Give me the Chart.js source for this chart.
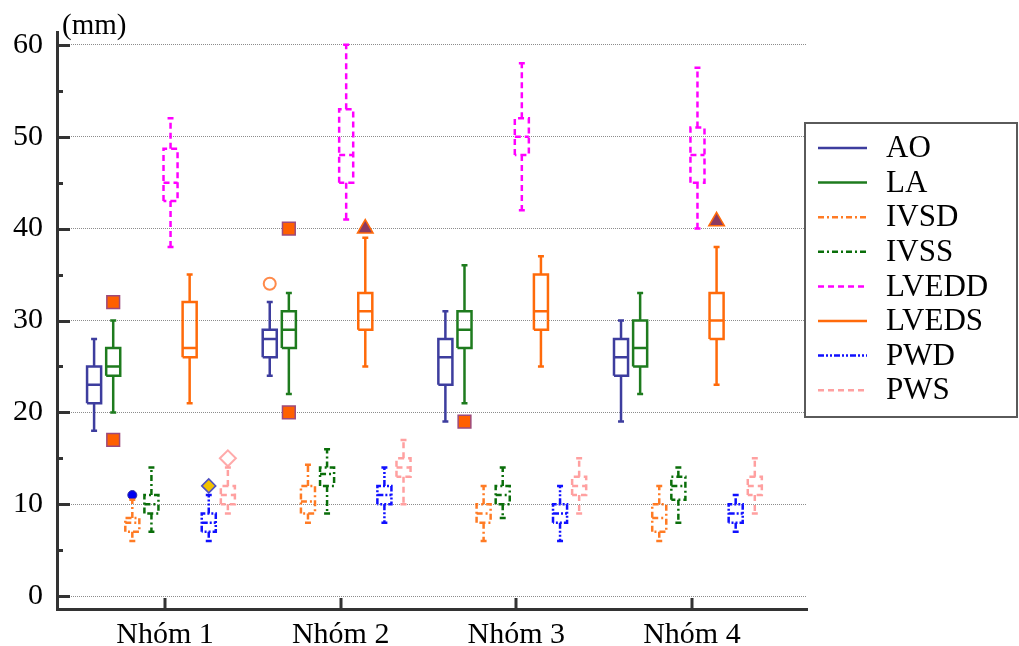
<!DOCTYPE html>
<html>
<head>
<meta charset="utf-8">
<title>Kích thước tim theo nhóm</title>
<script src="https://cdn.jsdelivr.net/npm/chart.js@4.4.1/dist/chart.umd.min.js"></script>
<style>
  html, body { margin: 0; padding: 0; background: #fff; }
  #khung { width: 1019px; height: 646px; }
</style>
</head>
<body>
<div id="khung"><canvas id="bieudo"></canvas></div>
<script>
const nhom = ['Nhóm 1', 'Nhóm 2', 'Nhóm 3', 'Nhóm 4'];
const chiSo = ['AO', 'LA', 'IVSD', 'IVSS', 'LVEDD', 'LVEDS', 'PWD', 'PWS'];
const yTicks = [0, 10, 20, 30, 40, 50, 60];

// moi nhom: [min, Q1, trung vi, Q3, max]
const ao    = [[18, 21, 23, 25, 28], [24, 26, 28, 29, 32], [19, 23, 26, 28, 31], [19, 24, 26, 28, 30]];
const la    = [[20, 24, 25, 27, 30], [22, 27, 29, 31, 33], [21, 27, 29, 31, 36], [22, 25, 27, 30, 33]];
const ivsd  = [[6, 7, 8, 8.5, 10.5], [8, 9, 10.3, 12, 14.3], [6, 8, 9, 10, 12], [6, 7, 8.5, 10, 12]];
const ivss  = [[7, 9, 10, 11, 14], [9, 12, 13.3, 14, 16], [8.5, 10, 11, 12, 14], [8, 10.5, 12, 13, 14]];
const lvedd = [[38, 43, 45, 48.7, 52], [41, 45, 48, 53, 60], [42, 48, 50, 52, 58], [40, 45, 48, 51, 57.5]];
const lveds = [[21, 26, 27, 32, 35], [25, 29, 31, 33, 39], [25, 29, 31, 35, 37], [23, 28, 30, 33, 38]];
const pwd   = [[6, 7, 8, 9, 11], [8, 10, 11, 12, 14], [6, 8, 9, 10, 12], [7, 8, 9, 10, 11]];
const pws   = [[9, 10, 11, 12, 14], [10, 13, 14, 15, 17], [9, 11, 12, 13, 15], [9, 11, 12, 13, 15]];
const thongKe = [ao, la, ivsd, ivss, lvedd, lveds, pwd, pws];

// diem ngoai lai: [nhom, chi so, gia tri, kieu]
const ngoaiLai = [
    [0, 1, 32, 'vuong'], [0, 1, 17, 'vuong'],
    [0, 2, 11, 'tronXanh'], [0, 6, 12, 'thoiVang'], [0, 7, 15, 'thoiHong'],
    [1, 0, 34, 'tronRong'], [1, 1, 40, 'vuong'], [1, 1, 20, 'vuong'],
    [1, 5, 40, 'tamGiac'],
    [2, 1, 19, 'vuong'],
    [3, 5, 40.8, 'tamGiac']
];

const mau = ['#3d3d9e', '#1e7b1e', '#ff7b24', '#0a6e0a', '#ff00ff', '#ff6a0a', '#1010ff', '#ffa0a0'];
const net = [[], [], [6, 3, 2, 3], [6, 3, 2, 3], [6, 4], [], [6, 2, 2, 2, 2, 2], [6, 4]];

const kieuDiem = {
    vuong:    { pointStyle: 'rect', radius: 9, bg: '#ff6000', bd: '#9c4a7c', bw: 1.5 },
    tronXanh: { pointStyle: 'circle', radius: 4.5, bg: '#0000f0', bd: '#2a2aa0', bw: 1 },
    thoiVang: { pointStyle: 'rectRot', radius: 7, bg: '#f2c200', bd: '#5050c0', bw: 1.5 },
    thoiHong: { pointStyle: 'rectRot', radius: 8, bg: 'rgba(255,255,255,0)', bd: '#ffaaaa', bw: 2 },
    tronRong: { pointStyle: 'circle', radius: 6, bg: 'rgba(255,255,255,0)', bd: '#ff8a4a', bw: 2 },
    tamGiac:  { pointStyle: 'triangle', radius: 9, bg: '#8b3a62', bd: '#ff6a0a', bw: 1.5 }
};

const nuaHop = 0.04;   // nua be rong hop
const nuaMu = 0.017;   // nua be rong vach dau rau
const buoc = 0.1088;   // khoang cach giua cac hop trong mot nhom
const lech = -0.023;

function viTri(g, s) {
    return g + 1 + (s - 3.5) * buoc + lech;
}

// ve hop + rau bang cac doan thang, ngat nhau bang null
function duongHop(bang, s) {
    const pts = [];
    const ngat = x => pts.push({ x: x, y: null });
    bang.forEach((t, g) => {
        const [mn, q1, md, q3, mx] = t;
        const x = viTri(g, s);
        pts.push({ x: x - nuaHop, y: q1 }, { x: x - nuaHop, y: q3 }, { x: x + nuaHop, y: q3 },
                 { x: x + nuaHop, y: q1 }, { x: x - nuaHop, y: q1 });
        ngat(x);
        pts.push({ x: x - nuaHop, y: md }, { x: x + nuaHop, y: md });
        ngat(x);
        pts.push({ x: x, y: q3 }, { x: x, y: mx });
        ngat(x);
        pts.push({ x: x - nuaMu, y: mx }, { x: x + nuaMu, y: mx });
        ngat(x);
        pts.push({ x: x, y: q1 }, { x: x, y: mn });
        ngat(x);
        pts.push({ x: x - nuaMu, y: mn }, { x: x + nuaMu, y: mn });
        ngat(x);
    });
    return pts;
}

const tapDuLieu = chiSo.map((ten, s) => ({
    label: ten,
    data: duongHop(thongKe[s], s),
    borderColor: mau[s],
    borderWidth: 2.5,
    borderDash: net[s],
    borderJoinStyle: 'miter',
    pointRadius: 0,
    fill: false,
    spanGaps: false,
    tension: 0
}));

ngoaiLai.forEach(([g, s, v, k]) => {
    const st = kieuDiem[k];
    tapDuLieu.push({
        label: '',
        data: [{ x: viTri(g, s), y: v }],
        showLine: false,
        pointStyle: st.pointStyle,
        pointRadius: st.radius,
        pointBackgroundColor: st.bg,
        pointBorderColor: st.bd,
        pointBorderWidth: st.bw
    });
});

const chuSerif = 'Liberation Serif, Times New Roman, serif';

// vach chia huong vao trong + nhan (mm)
const vachTrong = {
    id: 'vachTrong',
    afterDraw(chart) {
        const { ctx, chartArea, scales } = chart;
        ctx.save();
        ctx.strokeStyle = '#333';
        ctx.lineWidth = 3;
        for (let v = 0; v <= 60; v += 5) {
            const y = Math.round(scales.y.getPixelForValue(v)) + 0.5;
            const dai = v % 10 === 0 ? 13 : 6;
            ctx.beginPath();
            ctx.moveTo(chartArea.left, y);
            ctx.lineTo(chartArea.left + dai, y);
            ctx.stroke();
        }
        nhom.forEach((_, i) => {
            const x = Math.round(scales.x.getPixelForValue(i + 1));
            ctx.beginPath();
            ctx.moveTo(x, chartArea.bottom);
            ctx.lineTo(x, chartArea.bottom - 11);
            ctx.stroke();
        });
        ctx.fillStyle = '#000';
        ctx.font = '29px ' + chuSerif;
        ctx.textAlign = 'left';
        ctx.textBaseline = 'alphabetic';
        ctx.fillText('(mm)', 62, 34);
        ctx.restore();
    }
};

// chu giai ben phai
const chuGiai = {
    id: 'chuGiai',
    afterDraw(chart) {
        const { ctx, chartArea } = chart;
        const trai = chartArea.right - 2, tren = 123;
        ctx.save();
        ctx.fillStyle = '#fff';
        ctx.fillRect(trai, tren, 212, 294);
        ctx.strokeStyle = '#5a5a5a';
        ctx.lineWidth = 2;
        ctx.strokeRect(trai, tren, 212, 294);
        ctx.font = '31px ' + chuSerif;
        ctx.textBaseline = 'middle';
        ctx.textAlign = 'left';
        chiSo.forEach((ten, s) => {
            const y = tren + 25 + s * 34.6;
            ctx.strokeStyle = mau[s];
            ctx.lineWidth = 2.5;
            ctx.setLineDash(net[s]);
            ctx.beginPath();
            ctx.moveTo(trai + 13, y);
            ctx.lineTo(trai + 62, y);
            ctx.stroke();
            ctx.setLineDash([]);
            ctx.fillStyle = '#000';
            ctx.fillText(ten, trai + 81, y + 1);
        });
        ctx.restore();
    }
};

new Chart(document.getElementById('bieudo'), {
    type: 'line',
    data: { datasets: tapDuLieu },
    options: {
        responsive: true,
        maintainAspectRatio: false,
        animation: false,
        layout: { padding: { top: 32, right: 212, left: 0, bottom: 0 } },
        plugins: {
            legend: { display: false },
            tooltip: { enabled: false }
        },
        scales: {
            x: {
                type: 'linear',
                min: 0.385,
                max: 4.655,
                afterBuildTicks: s => { s.ticks = nhom.map((_, i) => ({ value: i + 1 })); },
                afterFit: s => { s.height = 37; },
                grid: { display: false },
                border: { display: true, width: 3, color: '#333' },
                ticks: {
                    autoSkip: false,
                    maxRotation: 0,
                    padding: 0,
                    color: '#000',
                    font: { family: chuSerif, size: 30 },
                    callback: v => nhom[v - 1]
                }
            },
            y: {
                min: -1.4,
                max: 61.4,
                afterBuildTicks: s => { s.ticks = yTicks.map(v => ({ value: v })); },
                afterFit: s => { s.width = 57; },
                grid: { color: '#8c8c8c', lineWidth: 1, drawTicks: false },
                border: { display: true, width: 3, color: '#333', dash: [1, 1] },
                ticks: {
                    padding: 14,
                    color: '#000',
                    font: { family: chuSerif, size: 30 }
                }
            }
        }
    },
    plugins: [vachTrong, chuGiai]
});
</script>
</body>
</html>
